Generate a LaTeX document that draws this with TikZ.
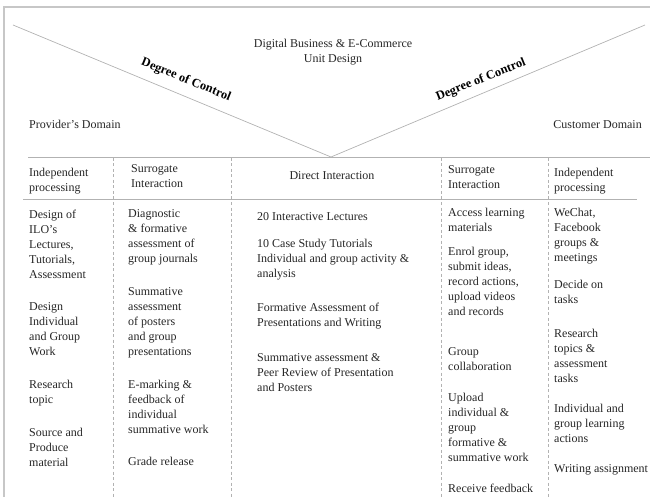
\documentclass[tikz,border=0pt]{standalone}
\usepackage{fontspec}
\setmainfont{Liberation Serif}
\usepackage{tikz}
\usetikzlibrary{positioning}
\newcommand{\cellfont}{\fontsize{12}{15}\selectfont}
\tikzset{%
  frameline/.style = {draw=black!22,line width=1.2pt},
  rule/.style = {draw=black!30,line width=0.7pt},
  colsep/.style = {draw=black!30,line width=0.6pt,dash pattern=on 3pt off 2.5pt},
  cell/.style = {anchor=north west,align=left,inner sep=0pt,
        text=black!85,font=\cellfont},
  control/.style = {inner sep=0pt,text=black,
        font=\fontsize{12.5}{15}\selectfont\bfseries}
}

\begin{document}
\begin{tikzpicture}[x=1pt,y=-1pt]
   \useasboundingbox (0,0) rectangle (650,497);
   \draw[frameline] (4,497) -- (4,7) -- (650,7);

   % the V of control
   \coordinate (vl) at (13,25);
   \coordinate (vtip) at (331,157);
   \coordinate (vr) at (645,25);
   \draw[rule] (vl) -- (vtip) -- (vr);
   \node[control,rotate=-22] (ctrl-left) at (186,80) {Degree of Control};
   \node[control,rotate=22] (ctrl-right) at (481,80) {Degree of Control};

   \node[cell,align=center,anchor=north] (title) at (333,39)
        {Digital Business \& E-Commerce\\Unit Design};
   \node[cell,anchor=base west] (provider) at (29,129) {Provider's Domain};
   \node[cell,anchor=base east] (customer) at (642,129) {Customer Domain};

   % table rules
   \draw[rule] (28,157) -- (650,157);
   \draw[rule] (23,199) -- (637,199);
   \foreach \x in {113,231,441,548}
      \draw[colsep] (\x,158) -- (\x,497);

   % header row
   \node[cell] (head-ind1) at (29,168) {Independent\\processing};
   \node[cell] (head-sur1) at (131,164) {Surrogate\\Interaction};
   \node[cell,anchor=base] (head-direct) at (332,180) {Direct Interaction};
   \node[cell] (head-sur2) at (448,165) {Surrogate\\Interaction};
   \node[cell] (head-ind2) at (554,168) {Independent\\processing};

   % provider, independent
   \node[cell] (ind1-a) at (29,210) {Design of\\ILO's\\Lectures,\\Tutorials,\\Assessment};
   \node[cell] (ind1-b) at (29,302) {Design\\Individual\\and Group\\Work};
   \node[cell] (ind1-c) at (29,380) {Research\\topic};
   \node[cell] (ind1-d) at (29,428) {Source and\\Produce\\material};

   % provider, surrogate
   \node[cell] (sur1-a) at (128,209) {Diagnostic\\\& formative\\assessment of\\group journals};
   \node[cell] (sur1-b) at (128,287) {Summative\\assessment\\of posters\\and group\\presentations};
   \node[cell] (sur1-c) at (128,380) {E-marking \&\\feedback of\\individual\\summative work};
   \node[cell] (sur1-d) at (128,457) {Grade release};

   % direct
   \node[cell] (dir-a) at (257,212) {20 Interactive Lectures};
   \node[cell] (dir-b) at (257,239) {10 Case Study Tutorials\\Individual and group activity \&\\analysis};
   \node[cell] (dir-c) at (257,303) {Formative Assessment of\\Presentations and Writing};
   \node[cell] (dir-d) at (257,353) {Summative assessment \&\\Peer Review of Presentation\\and Posters};

   % customer, surrogate
   \node[cell] (sur2-a) at (448,208) {Access learning\\materials};
   \node[cell] (sur2-b) at (448,247) {Enrol group,\\submit ideas,\\record actions,\\upload videos\\and records};
   \node[cell] (sur2-c) at (448,347) {Group\\collaboration};
   \node[cell] (sur2-d) at (448,393) {Upload\\individual \&\\group\\formative \&\\summative work};
   \node[cell] (sur2-e) at (448,484) {Receive feedback};

   % customer, independent
   \node[cell] (ind2-a) at (554,208) {WeChat,\\Facebook\\groups \&\\meetings};
   \node[cell] (ind2-b) at (554,280) {Decide on\\tasks};
   \node[cell] (ind2-c) at (554,329) {Research\\topics \&\\assessment\\tasks};
   \node[cell] (ind2-d) at (554,404) {Individual and\\group learning\\actions};
   \node[cell] (ind2-e) at (554,464) {Writing assignment};
\end{tikzpicture}
\end{document}
